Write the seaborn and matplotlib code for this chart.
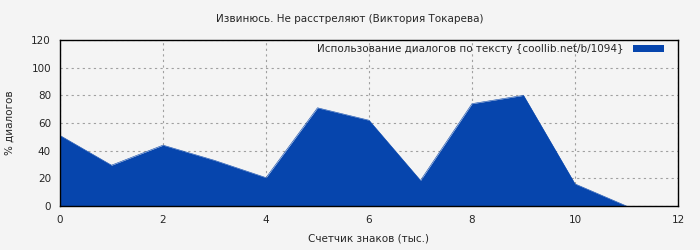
import matplotlib
matplotlib.use("Agg")
import matplotlib.pyplot as plt
import seaborn as sns
import pandas as pd

x_values = [0, 1, 2, 3, 4, 5, 6, 7, 8, 9, 10, 11]
percent_dialogs = [51, 29.5, 44, 33, 20.5, 71, 62, 18.5, 74, 80, 16, 0]
x_ticks = [0, 2, 4, 6, 8, 10, 12]
y_ticks = [0, 20, 40, 60, 80, 100, 120]
title = "Извинюсь. Не расстреляют (Виктория Токарева)"
series_label = "Использование диалогов по тексту {coollib.net/b/1094}"
x_label = "Счетчик знаков (тыс.)"
y_label = "% диалогов"

sns.set_style("white")
plt.rcParams['font.family'] = ['DejaVu Sans']

df = pd.DataFrame({"x": x_values, "y": percent_dialogs})
color = "#0645ad"

fig = plt.figure(figsize=(7, 2.5), dpi=100)
fig.patch.set_facecolor("#f4f4f4")
ax = fig.add_axes([60/700, 1-206/250, 618/700, 166/250])
ax.set_facecolor("#f4f4f4")

sns.lineplot(data=df, x="x", y="y", ax=ax, color=color, linewidth=0.4, legend=False, zorder=3)
ax.fill_between(df["x"], df["y"], 0, color=color, linewidth=0, label=series_label, zorder=3)

ax.set_xlim(0, 12)
ax.set_ylim(0, 120)
ax.set_xticks(x_ticks)
ax.set_yticks(y_ticks)
ax.tick_params(axis="both", labelsize=7.5, length=3, width=0.8, direction="out", color="black")
ax.grid(True, color="#a0a0a0", linestyle=(0, (2, 3)), linewidth=0.8, zorder=0)
ax.set_axisbelow(True)
for s in ax.spines.values():
    s.set_color("black")
    s.set_linewidth(1)
    s.set_zorder(5)
ax.set_xlabel(x_label, fontsize=7.5, labelpad=6)
ax.set_ylabel(y_label, fontsize=7.5, labelpad=12)
fig.text(0.5, 1-19/250, title, ha="center", va="center", fontsize=7.5)

leg = ax.legend(loc="upper right", frameon=False, fontsize=7.5, handlelength=3.0, handleheight=0.75,
                borderaxespad=0.1, borderpad=0.3, markerfirst=False, handletextpad=0.9,
                bbox_to_anchor=(1 - 10/618, 1.0))

fig.savefig("out.png", dpi=100, facecolor=fig.get_facecolor())
